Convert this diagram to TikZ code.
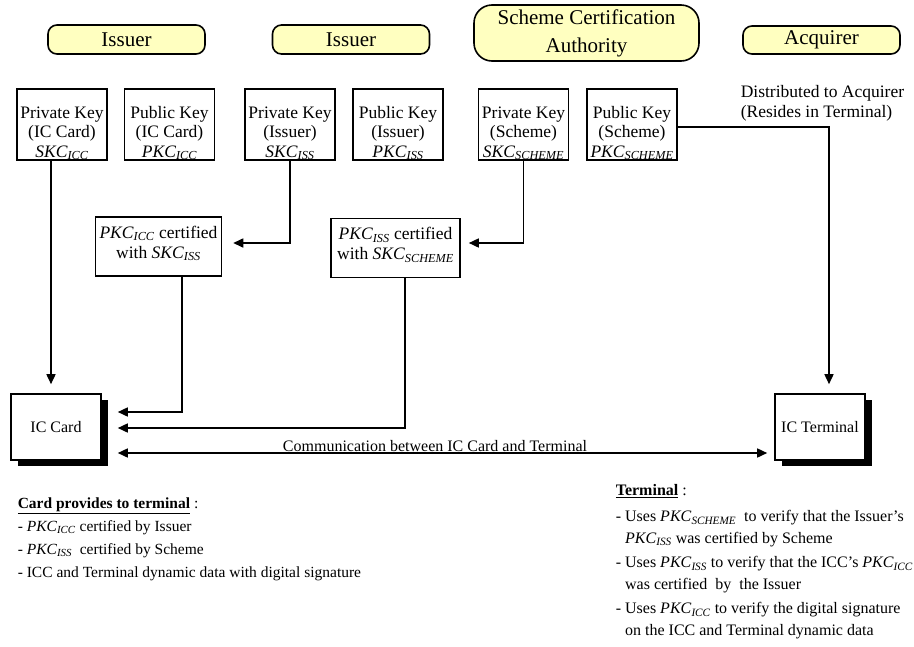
\documentclass[tikz,border=0pt]{standalone}
\usepackage{fontspec}
\setmainfont{Liberation Serif}
\usetikzlibrary{arrows.meta,shadows}
\definecolor{hdrfill}{RGB}{255,255,192}
\newcommand\kname[2]{\textit{#1}\textsubscript{\textit{#2}}}

\begin{document}
\begin{tikzpicture}[x=1pt,y=-1pt,line width=1.6pt,
    >={Triangle[length=10pt,width=9pt]},
    head/.style={draw,fill=hdrfill,rounded corners=9pt,minimum width=157pt,
      minimum height=29pt,inner sep=2pt,align=center,
      font=\fontsize{21}{28}\selectfont},
    keybox/.style={draw,minimum width=90pt,inner xsep=1pt,inner ysep=0pt,
      text height=68pt,text depth=3pt,align=center,
      font=\fontsize{17.5}{19.5}\selectfont},
    certbox/.style={draw,inner xsep=4pt,inner ysep=0pt,text height=41pt,
      text depth=18pt,align=center,font=\fontsize{17.5}{20}\selectfont},
    devbox/.style={draw,fill=white,minimum width=90pt,minimum height=66pt,
      inner sep=0pt,font=\fontsize{16}{19}\selectfont,
      general shadow={fill=black,shadow xshift=7pt,shadow yshift=-6pt}},
    note/.style={align=left,inner sep=0pt}]
  \useasboundingbox (0,0) rectangle (914,646);

  % owners
  \node[head] (iss1) at (126.5,39.5) {Issuer};
  \node[head] (iss2) at (351,39.5) {Issuer};
  \node[head,minimum width=225pt,minimum height=56pt,rounded corners=18pt]
    (sca) at (586.5,33) {Scheme Certification\\Authority};
  \node[head,minimum height=28pt] (acq) at (821.5,40) {Acquirer};

  % key pairs
  \foreach \n/\x/\t/\o/\k/\s in {skicc/62/Private/IC Card/SKC/ICC,
      pkicc/169.5/Public/IC Card/PKC/ICC, skiss/290/Private/Issuer/SKC/ISS,
      pkiss/398/Public/Issuer/PKC/ISS, sksch/523.5/Private/Scheme/SKC/SCHEME,
      pksch/632/Public/Scheme/PKC/SCHEME}
    \node[keybox] (\n) at (\x,124.5) {\t\ Key\\(\o)\\\kname{\k}{\s}};

  % certificates
  \node[certbox,minimum width=119pt] (cicc) at (158.5,246.5)
    {\kname{PKC}{ICC} certified\\with \kname{SKC}{ISS}};
  \node[certbox,minimum width=129pt] (ciss) at (395.5,248)
    {\kname{PKC}{ISS}\ certified\\with \kname{SKC}{SCHEME}};

  \node[devbox] (card) at (56,427) {IC Card};
  \node[devbox] (term) at (820,427) {IC Terminal};

  \node[note,anchor=base west,font=\fontsize{17.5}{20}\selectfont] (dist)
    at (740,117) {Distributed to Acquirer\\(Resides in Terminal)};

  % connectors
  \draw[->,shorten >=9pt] ([xshift=-11pt]skicc.south) -- ([xshift=-5pt]card.north);
  \draw[->,shorten >=11pt] (skiss.south) |- ([yshift=3.5pt]cicc.east);
  \draw[->,shorten >=8pt] (sksch.south) |- ([yshift=5pt]ciss.east);
  \draw[->,shorten >=16pt] ([xshift=23.5pt]cicc.south) |- ([yshift=15pt]card.east);
  \draw[->,shorten >=16pt] ([xshift=9.5pt]ciss.south) |- ([yshift=-1pt]card.east);
  \draw[->,shorten >=9pt] ([yshift=-2.5pt]pksch.east) -| ([xshift=9pt]term.north);
  \draw[<->,shorten <=16pt,shorten >=7pt] ([yshift=-26pt]card.east) --
    node[anchor=base,inner sep=0pt,xshift=-3pt,yshift=2pt,
      font=\fontsize{16}{19}\selectfont] (comm)
      {Communication between IC Card and Terminal}
    ([yshift=-26pt]term.west);

  % what each side does
  \node[note,anchor=base west,font=\fontsize{15.5}{23}\selectfont] (cardlist)
    at (17,577) {\underline{\textbf{Card provides to terminal}} :\\
    - \kname{PKC}{ICC} certified by Issuer\\
    - \kname{PKC}{ISS}\ \ certified by Scheme\\
    - ICC and Terminal dynamic data with digital signature};
  \node[note,anchor=base west,font=\fontsize{16}{21.5}\selectfont] (termlist)
    at (615,635) {\underline{\textbf{Terminal}} :\\[4.5pt]
    - Uses \kname{PKC}{SCHEME}\ \ to verify that the Issuer's\\
    \phantom{- }\kname{PKC}{ISS} was certified by Scheme\\[3pt]
    - Uses \kname{PKC}{ISS}\ to verify that the ICC's \kname{PKC}{ICC}\\
    \phantom{- }was certified \ by \ the Issuer\\[3pt]
    - Uses \kname{PKC}{ICC} to verify the digital signature\\
    \phantom{- }on the ICC and Terminal dynamic data};
\end{tikzpicture}
\end{document}
